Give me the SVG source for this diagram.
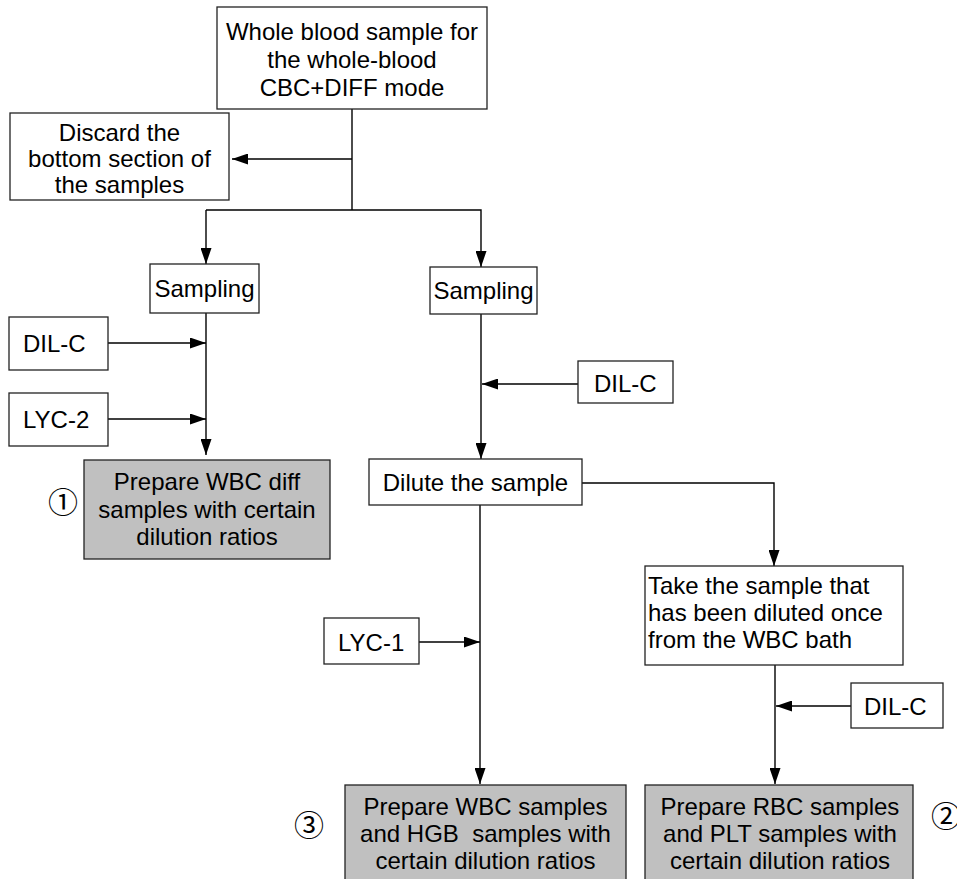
<svg xmlns="http://www.w3.org/2000/svg" width="957" height="879" viewBox="0 0 957 879">
<style>
.box{fill:#fff;stroke:#222;stroke-width:1.3}
.gray{fill:#c0c0c0;stroke:#222;stroke-width:1.3}
text{font-family:"Liberation Sans",Arial,sans-serif;font-size:24px;fill:#000}
.c{text-anchor:middle}
.num{font-family:"Noto Sans CJK SC","DejaVu Sans",sans-serif;font-size:30px;text-anchor:middle;font-weight:400}
.ln{fill:none;stroke:#000;stroke-width:1.4}
</style>
<defs>
<marker id="ah" viewBox="0 0 16 11" refX="16" refY="5.5" markerWidth="16" markerHeight="11" markerUnits="userSpaceOnUse" orient="auto">
<path d="M0,0 L16,5.5 L0,11 Z" fill="#000"/>
</marker>
</defs>
<g id="connectors">
<polyline class="ln" points="352,109 352,210"/>
<line class="ln" x1="352" y1="159" x2="232" y2="159" marker-end="url(#ah)"/>
<polyline class="ln" points="206,210 481,210 481,267" marker-end="url(#ah)"/>
<line class="ln" x1="206" y1="210" x2="206" y2="264" marker-end="url(#ah)"/>
<line class="ln" x1="206" y1="313" x2="206" y2="455" marker-end="url(#ah)"/>
<line class="ln" x1="108" y1="343" x2="206" y2="343" marker-end="url(#ah)"/>
<line class="ln" x1="108" y1="419" x2="206" y2="419" marker-end="url(#ah)"/>
<line class="ln" x1="481" y1="314" x2="481" y2="459" marker-end="url(#ah)"/>
<line class="ln" x1="578" y1="384" x2="482" y2="384" marker-end="url(#ah)"/>
<polyline class="ln" points="582,483 774,483 774,566" marker-end="url(#ah)"/>
<line class="ln" x1="480" y1="505" x2="480" y2="784" marker-end="url(#ah)"/>
<line class="ln" x1="419" y1="642" x2="480" y2="642" marker-end="url(#ah)"/>
<line class="ln" x1="775" y1="665" x2="775" y2="784" marker-end="url(#ah)"/>
<line class="ln" x1="851" y1="706" x2="776" y2="706" marker-end="url(#ah)"/>
</g>
<g id="n-whole">
<rect class="box" x="217" y="7" width="270" height="102"/>
<text class="c" x="352" y="40">Whole blood sample for</text>
<text class="c" x="352" y="68">the whole-blood</text>
<text class="c" x="352" y="96">CBC+DIFF mode</text>
</g>
<g id="n-discard">
<rect class="box" x="10" y="113" width="219" height="87"/>
<text class="c" x="119.5" y="141">Discard the</text>
<text class="c" x="119.5" y="167">bottom section of</text>
<text class="c" x="119.5" y="193">the samples</text>
</g>
<g id="n-sampling1">
<rect class="box" x="150" y="264" width="109" height="49"/>
<text class="c" x="204.5" y="297">Sampling</text>
</g>
<g id="n-dilc1">
<rect class="box" x="9" y="317" width="99" height="53"/>
<text x="23" y="352">DIL-C</text>
</g>
<g id="n-lyc2">
<rect class="box" x="9" y="393" width="99" height="53"/>
<text x="23" y="428">LYC-2</text>
</g>
<g id="n-wbcdiff">
<rect class="gray" x="84" y="460" width="246" height="99"/>
<text class="c" x="207" y="490">Prepare WBC diff</text>
<text class="c" x="207" y="518">samples with certain</text>
<text class="c" x="207" y="545">dilution ratios</text>
<text class="num" x="63" y="513">①</text>
</g>
<g id="n-sampling2">
<rect class="box" x="430" y="267" width="107" height="47"/>
<text class="c" x="483.5" y="299">Sampling</text>
</g>
<g id="n-dilc2">
<rect class="box" x="578" y="361" width="95" height="42"/>
<text x="594" y="392">DIL-C</text>
</g>
<g id="n-dilute">
<rect class="box" x="369" y="459" width="213" height="46"/>
<text class="c" x="475.5" y="491">Dilute the sample</text>
</g>
<g id="n-take">
<rect class="box" x="645" y="566" width="258" height="99"/>
<text x="648" y="594">Take the sample that</text>
<text x="648" y="621">has been diluted once</text>
<text x="648" y="648">from the WBC bath</text>
</g>
<g id="n-lyc1">
<rect class="box" x="324" y="618" width="95" height="46"/>
<text x="338" y="651">LYC-1</text>
</g>
<g id="n-dilc3">
<rect class="box" x="851" y="683" width="92" height="45"/>
<text x="864" y="715">DIL-C</text>
</g>
<g id="n-wbchgb">
<rect class="gray" x="345" y="785" width="281" height="100"/>
<text class="c" x="485.5" y="815">Prepare WBC samples</text>
<text class="c" x="485.5" y="842" xml:space="preserve">and HGB  samples with</text>
<text class="c" x="485.5" y="869">certain dilution ratios</text>
<text class="num" x="309" y="836">③</text>
</g>
<g id="n-rbcplt">
<rect class="gray" x="645" y="785" width="268" height="100"/>
<text class="c" x="780" y="815">Prepare RBC samples</text>
<text class="c" x="780" y="842">and PLT samples with</text>
<text class="c" x="780" y="869">certain dilution ratios</text>
<text class="num" x="946" y="827">②</text>
</g>
</svg>
